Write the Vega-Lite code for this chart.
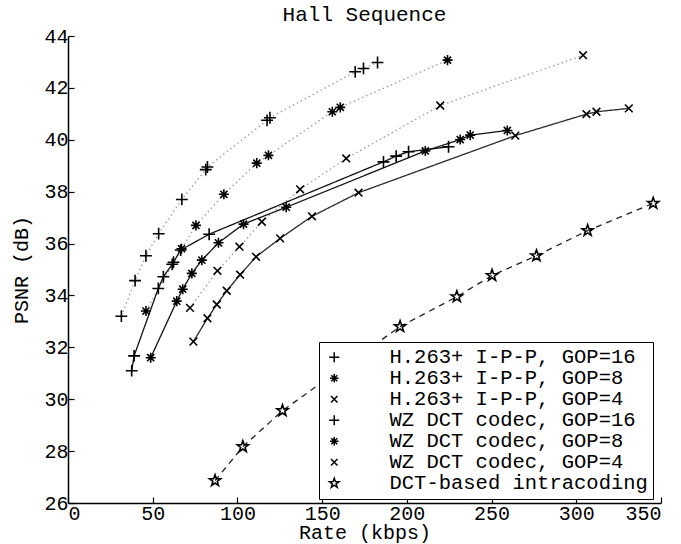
{
  "$schema": "https://vega.github.io/schema/vega-lite/v6.json",
  "width": 593,
  "height": 467,
  "autosize": {"type": "none"},
  "padding": {"left": 68, "top": 36, "right": 20, "bottom": 41},
  "background": "white",
  "title": {"text": "Hall Sequence", "font": "Liberation Mono", "fontSize": 21, "fontWeight": "normal", "color": "black", "frame": "group", "baseline": "alphabetic", "offset": -16},
  "config": {
    "view": {"stroke": null},
    "axis": {"grid": false, "domainColor": "black", "domainWidth": 1.5, "tickColor": "black", "tickWidth": 1.2, "tickSize": -6, "labelFont": "Liberation Mono", "labelFontSize": 20, "labelColor": "black", "titleFont": "Liberation Mono", "titleFontSize": 20, "titleFontWeight": "normal", "titleColor": "black"}
  },
  "data": {"values": [
    {"series": "H.263+ I-P-P, GOP=16", "rate": 31.5, "psnr": 33.2},
    {"series": "H.263+ I-P-P, GOP=16", "rate": 39.6, "psnr": 34.57},
    {"series": "H.263+ I-P-P, GOP=16", "rate": 46, "psnr": 35.53},
    {"series": "H.263+ I-P-P, GOP=16", "rate": 53.5, "psnr": 36.38},
    {"series": "H.263+ I-P-P, GOP=16", "rate": 67.2, "psnr": 37.7},
    {"series": "H.263+ I-P-P, GOP=16", "rate": 81.3, "psnr": 38.85},
    {"series": "H.263+ I-P-P, GOP=16", "rate": 82.3, "psnr": 38.95},
    {"series": "H.263+ I-P-P, GOP=16", "rate": 117.5, "psnr": 40.75},
    {"series": "H.263+ I-P-P, GOP=16", "rate": 119.2, "psnr": 40.85},
    {"series": "H.263+ I-P-P, GOP=16", "rate": 169.5, "psnr": 42.62},
    {"series": "H.263+ I-P-P, GOP=16", "rate": 174.4, "psnr": 42.75},
    {"series": "H.263+ I-P-P, GOP=16", "rate": 182.7, "psnr": 42.98},
    {"series": "H.263+ I-P-P, GOP=8", "rate": 46, "psnr": 33.4},
    {"series": "H.263+ I-P-P, GOP=8", "rate": 67, "psnr": 35.8},
    {"series": "H.263+ I-P-P, GOP=8", "rate": 75.5, "psnr": 36.7},
    {"series": "H.263+ I-P-P, GOP=8", "rate": 92, "psnr": 37.9},
    {"series": "H.263+ I-P-P, GOP=8", "rate": 111.4, "psnr": 39.1},
    {"series": "H.263+ I-P-P, GOP=8", "rate": 118.3, "psnr": 39.4},
    {"series": "H.263+ I-P-P, GOP=8", "rate": 156, "psnr": 41.08},
    {"series": "H.263+ I-P-P, GOP=8", "rate": 160.7, "psnr": 41.25},
    {"series": "H.263+ I-P-P, GOP=8", "rate": 224, "psnr": 43.07},
    {"series": "H.263+ I-P-P, GOP=4", "rate": 72, "psnr": 33.52},
    {"series": "H.263+ I-P-P, GOP=4", "rate": 88.2, "psnr": 34.95},
    {"series": "H.263+ I-P-P, GOP=4", "rate": 101.2, "psnr": 35.88},
    {"series": "H.263+ I-P-P, GOP=4", "rate": 114.4, "psnr": 36.84},
    {"series": "H.263+ I-P-P, GOP=4", "rate": 137, "psnr": 38.09},
    {"series": "H.263+ I-P-P, GOP=4", "rate": 164.2, "psnr": 39.28},
    {"series": "H.263+ I-P-P, GOP=4", "rate": 219.7, "psnr": 41.32},
    {"series": "H.263+ I-P-P, GOP=4", "rate": 304, "psnr": 43.26},
    {"series": "WZ DCT codec, GOP=16", "rate": 37.6, "psnr": 31.1},
    {"series": "WZ DCT codec, GOP=16", "rate": 39, "psnr": 31.67},
    {"series": "WZ DCT codec, GOP=16", "rate": 53.3, "psnr": 34.27},
    {"series": "WZ DCT codec, GOP=16", "rate": 56.3, "psnr": 34.72},
    {"series": "WZ DCT codec, GOP=16", "rate": 61.5, "psnr": 35.2},
    {"series": "WZ DCT codec, GOP=16", "rate": 62.3, "psnr": 35.28},
    {"series": "WZ DCT codec, GOP=16", "rate": 66.5, "psnr": 35.75},
    {"series": "WZ DCT codec, GOP=16", "rate": 83.3, "psnr": 36.36},
    {"series": "WZ DCT codec, GOP=16", "rate": 186.2, "psnr": 39.15},
    {"series": "WZ DCT codec, GOP=16", "rate": 193.7, "psnr": 39.37},
    {"series": "WZ DCT codec, GOP=16", "rate": 201, "psnr": 39.54},
    {"series": "WZ DCT codec, GOP=16", "rate": 224.6, "psnr": 39.73},
    {"series": "WZ DCT codec, GOP=8", "rate": 48.8, "psnr": 31.6},
    {"series": "WZ DCT codec, GOP=8", "rate": 64.2, "psnr": 33.78},
    {"series": "WZ DCT codec, GOP=8", "rate": 67.7, "psnr": 34.24},
    {"series": "WZ DCT codec, GOP=8", "rate": 73.1, "psnr": 34.85},
    {"series": "WZ DCT codec, GOP=8", "rate": 79, "psnr": 35.36},
    {"series": "WZ DCT codec, GOP=8", "rate": 88.8, "psnr": 36.03},
    {"series": "WZ DCT codec, GOP=8", "rate": 103.6, "psnr": 36.75},
    {"series": "WZ DCT codec, GOP=8", "rate": 128.8, "psnr": 37.4},
    {"series": "WZ DCT codec, GOP=8", "rate": 210.9, "psnr": 39.57},
    {"series": "WZ DCT codec, GOP=8", "rate": 231.5, "psnr": 40.01},
    {"series": "WZ DCT codec, GOP=8", "rate": 237.4, "psnr": 40.18},
    {"series": "WZ DCT codec, GOP=8", "rate": 259.3, "psnr": 40.36},
    {"series": "WZ DCT codec, GOP=4", "rate": 74, "psnr": 32.22},
    {"series": "WZ DCT codec, GOP=4", "rate": 82.3, "psnr": 33.12},
    {"series": "WZ DCT codec, GOP=4", "rate": 87.8, "psnr": 33.65},
    {"series": "WZ DCT codec, GOP=4", "rate": 93.7, "psnr": 34.18},
    {"series": "WZ DCT codec, GOP=4", "rate": 101.6, "psnr": 34.8},
    {"series": "WZ DCT codec, GOP=4", "rate": 111, "psnr": 35.49},
    {"series": "WZ DCT codec, GOP=4", "rate": 125.2, "psnr": 36.2},
    {"series": "WZ DCT codec, GOP=4", "rate": 144, "psnr": 37.05},
    {"series": "WZ DCT codec, GOP=4", "rate": 171.5, "psnr": 37.96},
    {"series": "WZ DCT codec, GOP=4", "rate": 264, "psnr": 40.16},
    {"series": "WZ DCT codec, GOP=4", "rate": 306, "psnr": 40.99},
    {"series": "WZ DCT codec, GOP=4", "rate": 311.9, "psnr": 41.08},
    {"series": "WZ DCT codec, GOP=4", "rate": 331, "psnr": 41.21},
    {"series": "DCT-based intracoding", "rate": 86.8, "psnr": 26.86},
    {"series": "DCT-based intracoding", "rate": 103.2, "psnr": 28.17},
    {"series": "DCT-based intracoding", "rate": 126.6, "psnr": 29.56},
    {"series": "DCT-based intracoding", "rate": 196, "psnr": 32.8},
    {"series": "DCT-based intracoding", "rate": 229.5, "psnr": 33.95},
    {"series": "DCT-based intracoding", "rate": 250.3, "psnr": 34.77},
    {"series": "DCT-based intracoding", "rate": 276.5, "psnr": 35.53},
    {"series": "DCT-based intracoding", "rate": 306.7, "psnr": 36.5},
    {"series": "DCT-based intracoding", "rate": 345.4, "psnr": 37.55}
  ]},
  "encoding": {
    "x": {"field": "rate", "type": "quantitative", "scale": {"domain": [0, 350], "nice": false}, "axis": {"title": "Rate (kbps)", "values": [0, 50, 100, 150, 200, 250, 300, 350], "labelPadding": 6, "titleBaseline": "alphabetic", "titleY": 35}},
    "y": {"field": "psnr", "type": "quantitative", "scale": {"domain": [26, 44], "nice": false, "zero": false}, "axis": {"title": "PSNR (dB)", "values": [26, 28, 30, 32, 34, 36, 38, 40, 42, 44], "labelPadding": 6, "titlePadding": 12}}
  },
  "layer": [
    {
      "mark": {"type": "line", "strokeWidth": 1.3},
      "encoding": {
        "color": {"field": "series", "type": "nominal", "legend": null,
          "scale": {"domain": ["DCT-based intracoding", "WZ DCT codec, GOP=4", "WZ DCT codec, GOP=8", "WZ DCT codec, GOP=16", "H.263+ I-P-P, GOP=4", "H.263+ I-P-P, GOP=8", "H.263+ I-P-P, GOP=16"],
                    "range": ["#222222", "#2a2a2a", "#111111", "#111111", "#9a9a9a", "#9a9a9a", "#9a9a9a"]}},
        "strokeDash": {"field": "series", "type": "nominal", "legend": null,
          "scale": {"domain": ["DCT-based intracoding", "WZ DCT codec, GOP=4", "WZ DCT codec, GOP=8", "WZ DCT codec, GOP=16", "H.263+ I-P-P, GOP=4", "H.263+ I-P-P, GOP=8", "H.263+ I-P-P, GOP=16"],
                    "range": [[6, 5], [1, 0], [1, 0], [1, 0], [1.5, 3], [1.5, 3], [1.5, 3]]}}
      }
    },
    {
      "mark": {"type": "point", "filled": false, "color": "black", "strokeWidth": 1.6, "size": 140, "opacity": 1},
      "encoding": {
        "shape": {"field": "series", "type": "nominal",
          "scale": {"domain": ["H.263+ I-P-P, GOP=16", "H.263+ I-P-P, GOP=8", "H.263+ I-P-P, GOP=4", "WZ DCT codec, GOP=16", "WZ DCT codec, GOP=8", "WZ DCT codec, GOP=4", "DCT-based intracoding"],
                    "range": ["M-1,0L1,0M0,-1L0,1", "M-0.85,0L0.85,0M0,-0.85L0,0.85M-0.6,-0.6L0.6,0.6M-0.6,0.6L0.6,-0.6", "M-0.65,-0.65L0.65,0.65M-0.65,0.65L0.65,-0.65", "M-1,0L1,0M0,-1L0,1", "M-0.85,0L0.85,0M0,-0.85L0,0.85M-0.6,-0.6L0.6,0.6M-0.6,0.6L0.6,-0.6", "M-0.65,-0.65L0.65,0.65M-0.65,0.65L0.65,-0.65", "M0,-1L0.235,-0.324L0.951,-0.309L0.38,0.124L0.588,0.809L0,0.4L-0.588,0.809L-0.38,0.124L-0.951,-0.309L-0.235,-0.324Z"]},
          "legend": {
            "title": null, "orient": "none", "legendX": 251, "legendY": 306,
            "fillColor": "white", "strokeColor": "black", "padding": 5,
            "labelFont": "Liberation Mono", "labelFontSize": 20.5, "labelColor": "black", "labelLimit": 500,
            "labelOffset": 45, "rowPadding": -1, "symbolSize": 100
          }}
      }
    }
  ]
}
